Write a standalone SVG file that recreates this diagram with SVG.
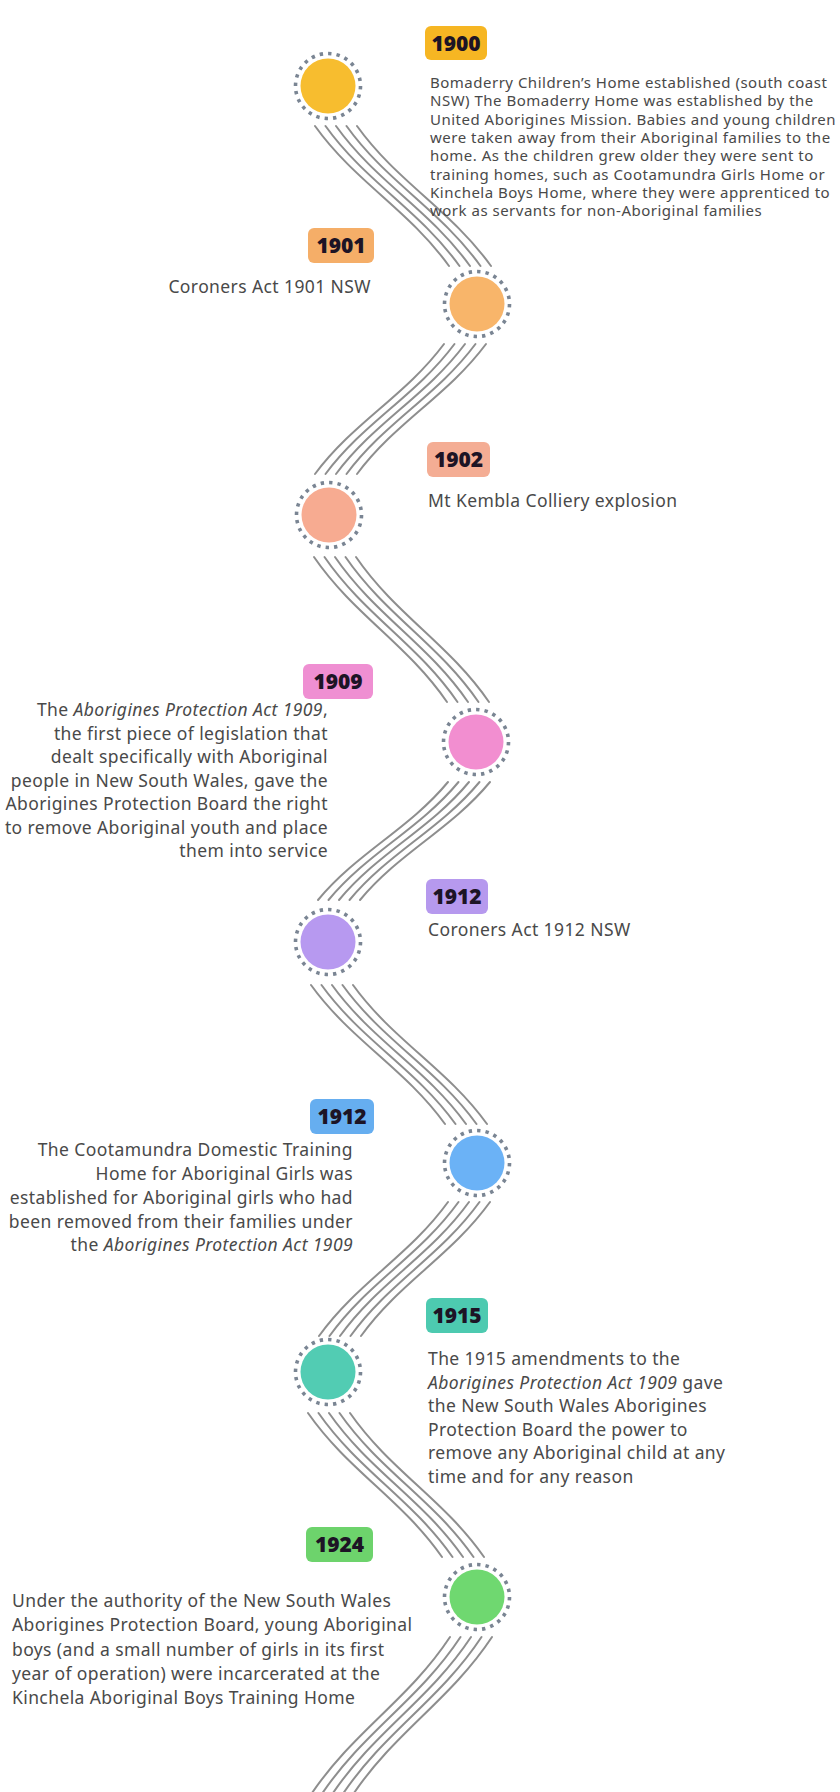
<svg xmlns="http://www.w3.org/2000/svg" xmlns:xlink="http://www.w3.org/1999/xlink" width="840" height="1792" viewBox="0 0 840 1792">
<style>
.bg{fill:#ffffff}
.wave{fill:none;stroke:#8e8e8e;stroke-width:2;stroke-linecap:round}
.ring{fill:none;stroke:#7a8593;stroke-width:3.6;stroke-dasharray:3.4 5.1}
.yr{font-family:"Noto Sans","DejaVu Sans",sans-serif;font-weight:900;font-size:21px;fill:#1d1425;text-anchor:middle}
.body{font-family:"Noto Sans","DejaVu Sans",sans-serif;font-size:17.5px;letter-spacing:0.4px;fill:#494949}
.small{font-family:"Noto Sans","DejaVu Sans",sans-serif;font-size:15px;letter-spacing:0.5px;fill:#494949}
.end{text-anchor:end}
.it{font-style:italic}
</style>
<defs>
<path id="b1" d="M336 126 C376.2 182 429.8 210 470 266"/>
<path id="b2" d="M465 344 C426.3 396 374.7 422 336 474"/>
<path id="b3" d="M335 557 C374.9 615 428.1 644 468 702"/>
<path id="b4" d="M469 782 C430 829.2 378 852.8 339 900"/>
<path id="b5" d="M332 985 C372.2 1040.6 425.8 1068.4 466 1124"/>
<path id="b6" d="M469 1202 C430.3 1255.6 378.7 1282.4 340 1336"/>
<path id="b7" d="M329 1413 C369.2 1470.6 422.8 1499.4 463 1557"/>
<path id="b8" d="M471 1637 C429 1700.6 373 1732.4 331 1796"/>
</defs>
<rect class="bg" x="0" y="0" width="840" height="1792"/>
<g id="connectors" class="wave">
<use href="#b1" x="-21"/><use href="#b1" x="-10.5"/><use href="#b1"/><use href="#b1" x="10.5"/><use href="#b1" x="21"/>
<use href="#b2" x="-21"/><use href="#b2" x="-10.5"/><use href="#b2"/><use href="#b2" x="10.5"/><use href="#b2" x="21"/>
<use href="#b3" x="-21"/><use href="#b3" x="-10.5"/><use href="#b3"/><use href="#b3" x="10.5"/><use href="#b3" x="21"/>
<use href="#b4" x="-21"/><use href="#b4" x="-10.5"/><use href="#b4"/><use href="#b4" x="10.5"/><use href="#b4" x="21"/>
<use href="#b5" x="-21"/><use href="#b5" x="-10.5"/><use href="#b5"/><use href="#b5" x="10.5"/><use href="#b5" x="21"/>
<use href="#b6" x="-21"/><use href="#b6" x="-10.5"/><use href="#b6"/><use href="#b6" x="10.5"/><use href="#b6" x="21"/>
<use href="#b7" x="-21"/><use href="#b7" x="-10.5"/><use href="#b7"/><use href="#b7" x="10.5"/><use href="#b7" x="21"/>
<use href="#b8" x="-21"/><use href="#b8" x="-10.5"/><use href="#b8"/><use href="#b8" x="10.5"/><use href="#b8" x="21"/>
</g>

<g id="node-1900">
<circle class="ring" cx="328" cy="86" r="32.5"/>
<circle cx="328" cy="86" r="27.5" fill="#F7BD2F"/>
<rect x="425" y="26" width="62" height="34" rx="6" fill="#F6B623"/>
<text class="yr" x="456" y="50.5">1900</text>
<text class="small" x="430"><tspan x="430" y="88">Bomaderry Children’s Home established (south coast</tspan><tspan x="430" y="106.3">NSW) The Bomaderry Home was established by the</tspan><tspan x="430" y="124.6">United Aborigines Mission. Babies and young children</tspan><tspan x="430" y="142.9">were taken away from their Aboriginal families to the</tspan><tspan x="430" y="161.2">home. As the children grew older they were sent to</tspan><tspan x="430" y="179.5">training homes, such as Cootamundra Girls Home or</tspan><tspan x="430" y="197.8">Kinchela Boys Home, where they were apprenticed to</tspan><tspan x="430" y="216.1">work as servants for non-Aboriginal families</tspan></text>
</g>

<g id="node-1901">
<circle class="ring" cx="477" cy="304" r="32.5"/>
<circle cx="477" cy="304" r="27.5" fill="#F8B56A"/>
<rect x="308" y="228" width="66" height="35" rx="6" fill="#F5AE68"/>
<text class="yr" x="341" y="253">1901</text>
<text class="body end" x="371" y="293">Coroners Act 1901 NSW</text>
</g>

<g id="node-1902">
<circle class="ring" cx="329" cy="515" r="32.5"/>
<circle cx="329" cy="515" r="27.5" fill="#F7AB91"/>
<rect x="427" y="442" width="63" height="35" rx="6" fill="#F4AD94"/>
<text class="yr" x="458.5" y="467">1902</text>
<text class="body" x="428" y="507">Mt Kembla Colliery explosion</text>
</g>

<g id="node-1909">
<circle class="ring" cx="476" cy="742" r="32.5"/>
<circle cx="476" cy="742" r="27.5" fill="#F28ED0"/>
<rect x="303" y="664" width="70" height="35" rx="6" fill="#EF8FD2"/>
<text class="yr" x="338" y="689">1909</text>
<text class="body end" x="328" y="716">The <tspan class="it">Aborigines Protection Act 1909</tspan>,</text>
<text class="body end" x="328" y="739.5">the first piece of legislation that</text>
<text class="body end" x="328" y="763">dealt specifically with Aboriginal</text>
<text class="body end" x="328" y="786.5">people in New South Wales, gave the</text>
<text class="body end" x="328" y="810">Aborigines Protection Board the right</text>
<text class="body end" x="328" y="833.5">to remove Aboriginal youth and place</text>
<text class="body end" x="328" y="857">them into service</text>
</g>

<g id="node-1912a">
<circle class="ring" cx="328" cy="942" r="32.5"/>
<circle cx="328" cy="942" r="27.5" fill="#B799F0"/>
<rect x="426" y="879" width="62" height="35" rx="6" fill="#B699EE"/>
<text class="yr" x="457" y="904">1912</text>
<text class="body" x="428" y="936">Coroners Act 1912 NSW</text>
</g>

<g id="node-1912b">
<circle class="ring" cx="477" cy="1163" r="32.5"/>
<circle cx="477" cy="1163" r="27.5" fill="#6BB2F6"/>
<rect x="310" y="1099" width="64" height="35" rx="6" fill="#66AEF0"/>
<text class="yr" x="342" y="1124">1912</text>
<text class="body end" x="353" y="1156">The Cootamundra Domestic Training</text>
<text class="body end" x="353" y="1180">Home for Aboriginal Girls was</text>
<text class="body end" x="353" y="1204">established for Aboriginal girls who had</text>
<text class="body end" x="353" y="1227.5">been removed from their families under</text>
<text class="body end" x="353" y="1251">the <tspan class="it">Aborigines Protection Act 1909</tspan></text>
</g>

<g id="node-1915">
<circle class="ring" cx="328" cy="1372" r="32.5"/>
<circle cx="328" cy="1372" r="27.5" fill="#52CCB3"/>
<rect x="426" y="1298" width="62" height="35" rx="6" fill="#4DCAB0"/>
<text class="yr" x="457" y="1323">1915</text>
<text class="body" x="428" y="1365">The 1915 amendments to the</text>
<text class="body" x="428" y="1388.5"><tspan class="it">Aborigines Protection Act 1909</tspan> gave</text>
<text class="body" x="428" y="1412">the New South Wales Aborigines</text>
<text class="body" x="428" y="1435.5">Protection Board the power to</text>
<text class="body" x="428" y="1459">remove any Aboriginal child at any</text>
<text class="body" x="428" y="1482.5">time and for any reason</text>
</g>

<g id="node-1924">
<circle class="ring" cx="477" cy="1597" r="32.5"/>
<circle cx="477" cy="1597" r="27.5" fill="#6FD870"/>
<rect x="306" y="1527" width="67" height="35" rx="6" fill="#6DD36C"/>
<text class="yr" x="339.5" y="1552">1924</text>
<text class="body" x="12" y="1607">Under the authority of the New South Wales</text>
<text class="body" x="12" y="1631">Aborigines Protection Board, young Aboriginal</text>
<text class="body" x="12" y="1655.5">boys (and a small number of girls in its first</text>
<text class="body" x="12" y="1680">year of operation) were incarcerated at the</text>
<text class="body" x="12" y="1704">Kinchela Aboriginal Boys Training Home</text>
</g>
</svg>
